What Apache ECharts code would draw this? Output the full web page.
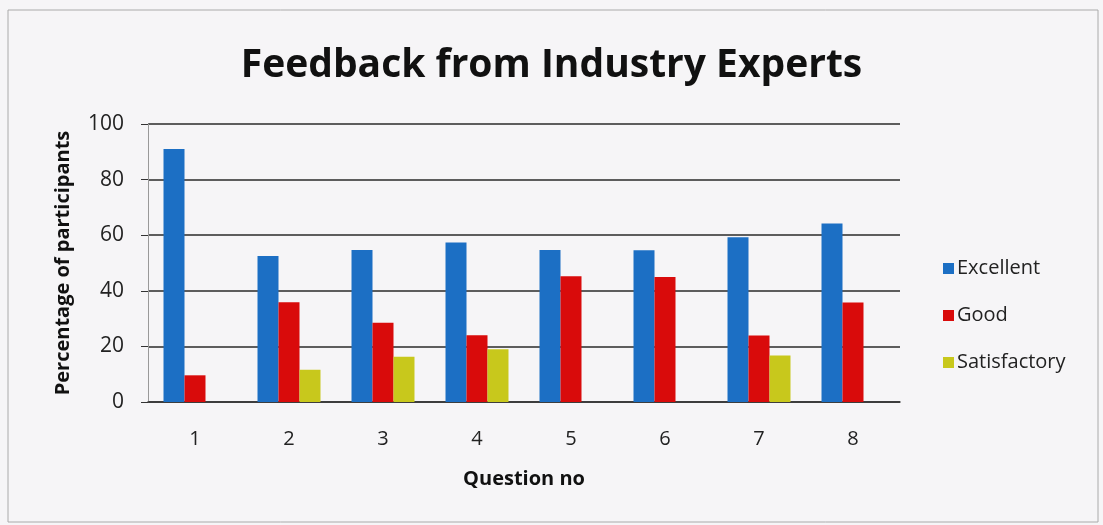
<!DOCTYPE html>
<html><head><meta charset="utf-8">
<script src="https://cdn.jsdelivr.net/npm/echarts@6/dist/echarts.min.js"></script>
<style>html,body{margin:0;padding:0;background:#f6f5f7}#c{width:1103px;height:525px}</style>
</head><body><div id="c"></div>
<script>
const categories = ['1','2','3','4','5','6','7','8'];
const excellent = [91, 52.5, 54.7, 57.4, 54.7, 54.6, 59.3, 64.2];
const good = [9.6, 35.9, 28.5, 24, 45.2, 45, 23.9, 35.8];
const satisfactory = [0, 11.6, 16.3, 19, 0, 0, 16.7, 0];
const yTicks = {min: 0, max: 100, interval: 20};

const font = '"Open Sans", "Noto Sans", sans-serif';
const chart = echarts.init(document.getElementById('c'));
chart.setOption({
  backgroundColor: '#f6f5f7',
  animation: false,
  textStyle: {fontFamily: font},
  title: {
    text: 'Feedback from Industry Experts',
    left: 'center', top: 41,
    textStyle: {fontFamily: font, fontSize: 39, fontWeight: 'bold', color: '#111'}
  },
  legend: {
    orient: 'vertical', left: 938, top: 253, itemGap: 26,
    itemWidth: 11, itemHeight: 11, icon: 'rect',
    textStyle: {fontFamily: font, fontSize: 20, lineHeight: 21, color: '#222', padding: [0,0,0,-2]},
    data: ['Excellent','Good','Satisfactory']
  },
  grid: {left: 148, right: 203, top: 124, bottom: 123},
  xAxis: {
    type: 'category', data: categories,
    name: 'Question no', nameLocation: 'middle', nameGap: 67,
    nameTextStyle: {fontFamily: font, fontSize: 20, fontWeight: 'bold', color: '#111'},
    axisLine: {lineStyle: {color: '#333', width: 1.5}},
    axisTick: {show: false},
    axisLabel: {fontSize: 20, color: '#222', margin: 27}
  },
  yAxis: {
    type: 'value', min: yTicks.min, max: yTicks.max, interval: yTicks.interval,
    name: 'Percentage of participants', nameLocation: 'middle', nameGap: 75,
    nameTextStyle: {fontFamily: font, fontSize: 20, fontWeight: 'bold', color: '#111'},
    axisLine: {show: true, lineStyle: {color: '#999', width: 1}},
    axisTick: {show: true, length: 7, lineStyle: {color: '#333'}},
    axisLabel: {fontSize: 21, color: '#222', margin: 24},
    splitLine: {lineStyle: {color: '#2a2a2a', width: 1.6}}
  },
  series: [
    {name: 'Excellent', type: 'bar', data: excellent, itemStyle: {color: '#1c6fc4'}, barGap: '0%', barCategoryGap: '33%'},
    {name: 'Good', type: 'bar', data: good, itemStyle: {color: '#d90b0b'}},
    {name: 'Satisfactory', type: 'bar', data: satisfactory, itemStyle: {color: '#c8c81c'}}
  ],
  graphic: [{type: 'rect', shape: {x: 8, y: 10, width: 1090, height: 512}, style: {fill: 'none', stroke: '#aaa', lineWidth: 1}, silent: true}]
});
</script></body></html>
